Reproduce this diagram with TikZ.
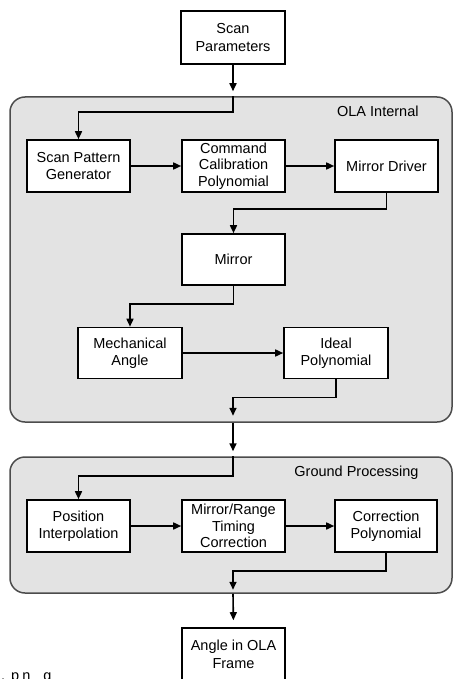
\documentclass[tikz,border=0pt]{standalone}
\usepackage{fontspec}
\setmainfont{Liberation Sans}
\usetikzlibrary{arrows.meta,positioning}

\tikzset{
  block/.style={draw, line width=1.6pt, fill=white, minimum width=103pt,
    minimum height=52pt, align=center, inner sep=1pt,
    font=\fontsize{14.5}{17.5}\selectfont},
  tightblock/.style={block, font=\fontsize{14.5}{16.5}\selectfont},
  group/.style={draw=black!70, line width=1.5pt, fill=black!11,
    rounded corners=15pt, minimum width=442pt},
  grouptitle/.style={anchor=east, inner sep=0pt, font=\fontsize{14.5}{17.5}\selectfont},
  flow/.style={line width=1.6pt, -{Triangle[length=8pt,width=7pt]}},
}

\begin{document}
\begin{tikzpicture}[x=1pt,y=-1pt]
  \useasboundingbox (0,0) rectangle (454,679);

  % Groups
  \node[group, minimum height=325pt] (ola) at (231,259.5) {};
  \node[grouptitle] (olatitle) at ([xshift=-34pt,yshift=-15pt]ola.north east) {OLA Internal};
  \node[group, minimum height=136pt] (ground) at (231,525) {};
  \node[grouptitle] (groundtitle) at ([xshift=-34pt,yshift=-16pt]ground.north east) {Ground Processing};

  % Blocks
  \node[block, minimum width=104pt, minimum height=53pt] (scanpar) at (233,37.5) {Scan\\Parameters};
  \node[block] (spg) at (78.5,166) {Scan Pattern\\Generator};
  \node[tightblock] (ccp) at (233.5,166) {Command\\Calibration\\Polynomial};
  \node[block] (driver) at (386.5,166) {Mirror Driver};
  \node[block, minimum height=51pt] (mirror) at (233.5,259.5) {Mirror};
  \node[block, minimum width=104pt, minimum height=51pt] (mech) at (130,353) {Mechanical\\Angle};
  \node[block, minimum width=104pt, minimum height=51pt] (ideal) at (336,353) {Ideal\\Polynomial};
  \node[block] (posinterp) at (78.5,526) {Position\\Interpolation};
  \node[tightblock] (timing) at (233.5,526) {Mirror/Range\\Timing\\Correction};
  \node[block, minimum width=102pt] (corrpoly) at (386,526) {Correction\\Polynomial};
  \node[block, minimum height=53pt] (olaframe) at (233.5,654.5) {Angle in OLA\\Frame};

  % Flow
  \draw[flow, shorten >=5pt] (scanpar.south) -- (scanpar |- ola.north);
  \draw[flow] (scanpar |- ola.north) -- ++(0,16) -| (spg.north);
  \draw[flow] (spg) -- (ccp);
  \draw[flow] (ccp) -- (driver);
  \draw[flow] (driver.south) -- ++(0,16) -| (mirror.north);
  \draw[flow] (mirror.south) -- ++(0,18) -| (mech.north);
  \draw[flow] (mech) -- (ideal);
  \draw[flow, shorten >=7pt] (ideal.south) -- ++(0,18) -| (scanpar |- ola.south);
  \draw[flow, shorten >=5pt] (scanpar |- ola.south) -- (scanpar |- ground.north);
  \draw[flow] (scanpar |- ground.north) -- ++(0,20) -| (posinterp.north);
  \draw[flow] (posinterp) -- (timing);
  \draw[flow] (timing) -- (corrpoly);
  \draw[flow, shorten >=4pt] (corrpoly.south) -- ++(0,18) -| (scanpar |- ground.south);
  \draw[flow, shorten >=7pt] (scanpar |- ground.south) -- (olaframe.north);

  % cut-off file name
  \node[anchor=base west, inner sep=0pt, font=\fontsize{14.5}{17.5}\selectfont] (fname)
    at (1,680) {.\hspace{6pt}p\hspace{3pt}n\hspace{13pt}g};
\end{tikzpicture}
\end{document}
